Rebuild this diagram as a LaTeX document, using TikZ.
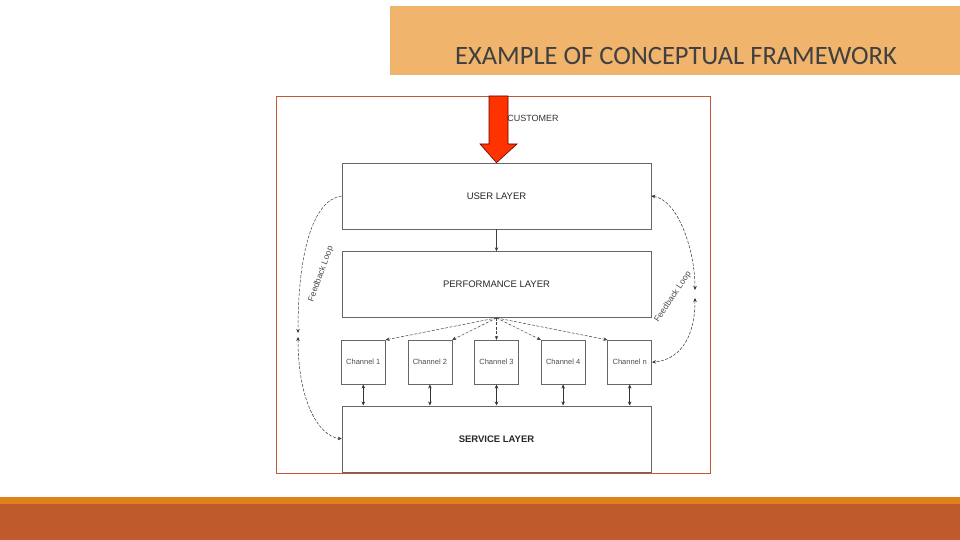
\documentclass[tikz,border=0pt]{standalone}
\usepackage{fontspec}
\setmainfont{Liberation Sans}
\newfontfamily\titlefont{Carlito}
\usetikzlibrary{arrows.meta,positioning}
\definecolor{bannerorange}{HTML}{F0B46C}
\definecolor{titlegray}{HTML}{404040}
\definecolor{framebrown}{HTML}{C0583A}
\definecolor{stripeorange}{HTML}{E0821A}
\definecolor{footbrown}{HTML}{BE5A2C}
\definecolor{custred}{HTML}{FF3300}
\tikzset{
  layer/.style={draw=black!60,line width=.6pt,minimum width=309pt,minimum height=66pt,
                inner sep=0pt,font=\fontsize{9.5}{11}\selectfont,text=black!85},
  chan/.style ={draw=black!60,line width=.6pt,minimum width=44pt,minimum height=44pt,
                inner sep=0pt,font=\fontsize{7.5}{9}\selectfont,text=black!70},
  ar/.style   ={-{Stealth[length=4pt,width=3.5pt]},line width=.5pt,black!75},
  dar/.style  ={{Stealth[length=4pt,width=3.5pt]}-{Stealth[length=4pt,width=3.5pt]},line width=.5pt,black!80},
  dsh/.style  ={ar,dashed,dash pattern=on 3pt off 1.5pt},
  fb/.style   ={dar,dashed,dash pattern=on 3pt off 1.5pt},
  fblbl/.style={font=\fontsize{8.5}{10}\selectfont,text=black!70,inner sep=0pt},
}
\begin{document}
\begin{tikzpicture}[x=1pt,y=-1pt]
  \useasboundingbox (0,0) rectangle (960,540);
  % banner and footer
  \fill[bannerorange] (390,6) rectangle (960,75);
  \node[anchor=base west,inner sep=0pt,font=\titlefont\fontsize{26.5}{30}\selectfont,text=titlegray]
    (title) at (455,65) {EXAMPLE OF CONCEPTUAL FRAMEWORK};
  \fill[stripeorange] (0,497) rectangle (960,504);
  \fill[footbrown] (0,504) rectangle (960,540);
  \draw[framebrown,line width=.8pt] (276,96) rectangle (710,473);

  % layers and channels
  \node[layer] (user) at (496.5,196) {USER LAYER};
  \node[layer] (perf) [below=22pt of user] {PERFORMANCE LAYER};
  \node[chan] (ch3) [below=22pt of perf] {Channel 3};
  \node[chan] (ch2) [left=22pt of ch3] {Channel 2};
  \node[chan] (ch1) [left=22pt of ch2] {Channel 1};
  \node[chan] (ch4) [right=22pt of ch3] {Channel 4};
  \node[chan] (chn) [right=22pt of ch4] {Channel n};
  \node[layer,font=\fontsize{9.5}{11}\selectfont\bfseries] (serv) [below=21pt of ch3] {SERVICE LAYER};

  % customer input
  \filldraw[fill=custred,draw=red!40!black,line width=.6pt]
    (489,96) -- (508,96) -- (508,144) -- (517,144) -- (user.north) -- (480,144) -- (489,144) -- cycle;
  \node[font=\fontsize{9}{10}\selectfont,text=black!80] (cust) at (533,118) {CUSTOMER};

  \draw[ar] (user) -- (perf);
  \draw[dsh] (perf.south) -- (ch1.north east);
  \draw[dsh] (perf.south) -- (ch2.north east);
  \draw[dsh] (perf.south) -- (ch3.north);
  \draw[dsh] (perf.south) -- (ch4.north west);
  \draw[dsh] (perf.south) -- (chn.north west);
  \foreach \c in {ch1,ch2,ch3,ch4,chn}
    \draw[dar] (\c.south) -- (\c.south |- serv.north);

  % feedback loops
  \coordinate (lfA) at (298,333);
  \coordinate (lfB) at (298,337);
  \coordinate (rtA) at (695,290);
  \coordinate (rtB) at (695,298);
  \draw[ar,dashed,dash pattern=on 3pt off 1.5pt] (user.west) .. controls (312,200) and (298,255) .. (lfA);
  \draw[fb] (lfB) .. controls (298,400) and (318,436) .. (serv.west);
  \draw[fb] (user.east) .. controls (678,200) and (695,250) .. (rtA);
  \draw[fb] (rtB) .. controls (695,340) and (678,360) .. (chn.east);
  \node[fblbl,rotate=70] (fbl) at (321,274) {Feedback Loop};
  \node[fblbl,rotate=56] (fbr) at (673,297) {Feedback Loop};
\end{tikzpicture}
\end{document}
